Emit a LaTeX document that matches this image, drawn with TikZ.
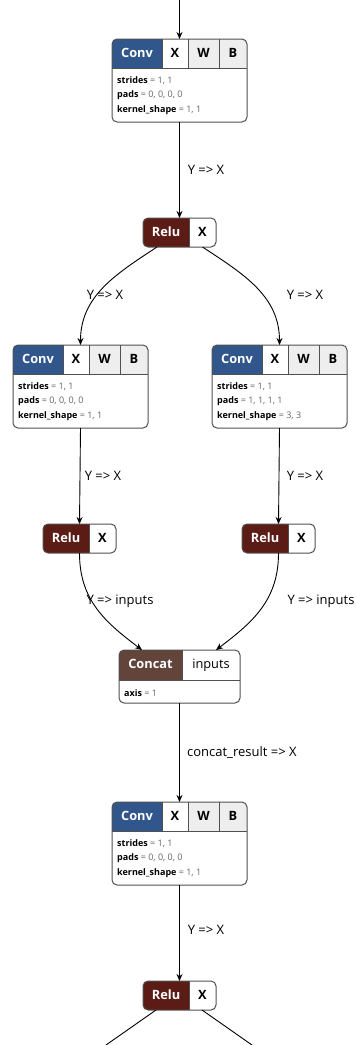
\documentclass[tikz,border=0pt]{standalone}
\usepackage{fontspec}
\setmainfont{Open Sans}
\usetikzlibrary{arrows.meta,calc}
\definecolor{convblue}{RGB}{48,86,140}
\definecolor{relured}{RGB}{92,28,22}
\definecolor{concatbrown}{RGB}{98,68,58}
\definecolor{constgray}{RGB}{238,238,238}
\definecolor{bordergray}{RGB}{80,80,80}
\definecolor{valgray}{RGB}{100,100,100}
\tikzset{
  edge/.style={draw=black, line width=0.9pt, -{Stealth[length=7pt,width=6pt]}},
  edgeplain/.style={draw=black, line width=0.9pt},
  elabel/.style={font=\fontsize{13}{15}\selectfont, text=black, inner sep=0pt},
  cell/.style={inner sep=0pt, outer sep=0pt, anchor=north west, text height=9.5pt, text depth=2.5pt, font=\fontsize{12.8}{15}\selectfont\bfseries},
  frame/.style={draw=bordergray, line width=1pt, rounded corners=5pt, inner sep=0pt, outer sep=0pt, anchor=north west},
  divider/.style={draw=bordergray, line width=0.8pt},
  attr/.style={inner sep=0pt, anchor=west, font=\fontsize{9}{11}\selectfont},
}
\newcommand\convop[6]{%
  \begin{scope}
    \clip[rounded corners=5pt] (#2,#3) rectangle ++(135,83);
    \node[cell, fill=convblue, text=white, minimum width=50, minimum height=29] (#1t) at (#2,#3) {Conv};
    \node[cell, fill=white, minimum width=26, minimum height=29] (#1x) at (#1t.north east) {X};
    \node[cell, fill=constgray, minimum width=31, minimum height=29] (#1w) at (#1x.north east) {W};
    \node[cell, fill=constgray, minimum width=28, minimum height=29] (#1b) at (#1w.north east) {B};
  \end{scope}
  \node[frame, minimum width=135, minimum height=83] (#1) at (#2,#3) {};
  \draw[divider] (#1x.north west) -- (#1x.south west) (#1w.north west) -- (#1w.south west)
    (#1b.north west) -- (#1b.south west) (#1t.south west) -- (#1b.south east);
  \node[attr] (#1s) at (#2+5,#3+42) {\textbf{strides} \textcolor{valgray}{= #4}};
  \node[attr] (#1p) at (#2+5,#3+56.5) {\textbf{pads} \textcolor{valgray}{= #5}};
  \node[attr] (#1k) at (#2+5,#3+71) {\textbf{kernel\_shape} \textcolor{valgray}{= #6}};
}
\newcommand\reluop[3]{%
  \begin{scope}
    \clip[rounded corners=5pt] (#2,#3) rectangle ++(73,29);
    \node[cell, fill=relured, text=white, minimum width=46, minimum height=29] (#1t) at (#2,#3) {Relu};
    \node[cell, fill=white, minimum width=27, minimum height=29] (#1x) at (#1t.north east) {X};
  \end{scope}
  \node[frame, minimum width=73, minimum height=29] (#1) at (#2,#3) {};
  \draw[divider] (#1x.north west) -- (#1x.south west);
}
\begin{document}
\begin{tikzpicture}[x=1pt,y=-1pt]
\useasboundingbox (0,0) rectangle (356,1045);
\fill[white] (0,0) rectangle (356,1045);

\convop{conva}{112}{39}{1, 1}{0, 0, 0, 0}{1, 1}
\reluop{relua}{143}{218}
\convop{convb}{13}{345}{1, 1}{0, 0, 0, 0}{1, 1}
\convop{convc}{212}{345}{1, 1}{1, 1, 1, 1}{3, 3}
\reluop{relub}{43}{524}
\reluop{reluc}{242}{524}
% concat
\begin{scope}
  \clip[rounded corners=5pt] (119,650) rectangle ++(121,53);
  \node[cell, fill=concatbrown, text=white, minimum width=63, minimum height=30] (concatt) at (119,650) {Concat};
  \node[cell, fill=white, font=\fontsize{12.8}{15}\selectfont, minimum width=58, minimum height=30] (concatx) at (concatt.north east) {inputs};
\end{scope}
\node[frame, minimum width=121, minimum height=53] (concat) at (119,650) {};
\draw[divider] (concatx.north west) -- (concatx.south west) (concatt.south west) -- (concatx.south east);
\node[attr] (concata) at (124,693) {\textbf{axis} \textcolor{valgray}{= 1}};
\convop{convd}{112}{802}{1, 1}{0, 0, 0, 0}{1, 1}
\reluop{relud}{143}{981}

% edges
\coordinate (topin) at (179.5,-1);
\draw[edge] (topin) -- (conva.north);
\draw[edge] (conva.south) -- (relua.north);
\node[elabel] (la) at (206,170) {Y => X};
\draw[edge] ([xshift=-22.5pt]relua.south) .. controls +(-41,27) and +(0,-49) .. (convb.north);
\draw[edge] ([xshift=23pt]relua.south) .. controls +(41,27) and +(0,-49) .. (convc.north);
\node[elabel] (lb) at (105,295) {Y => X};
\node[elabel] (lc) at (305,295) {Y => X};
\draw[edge] (convb.south) -- (relub.north);
\draw[edge] (convc.south) -- (reluc.north);
\node[elabel] (ld) at (103,476) {Y => X};
\node[elabel] (le) at (305,476) {Y => X};
\draw[edge] (relub.south) .. controls +(0,47) and +(-37,-28) .. ([xshift=-37.5pt]concat.north);
\draw[edge] (reluc.south) .. controls +(0,47) and +(37,-28) .. ([xshift=36.5pt]concat.north);
\node[elabel] (lf) at (120,601) {Y => inputs};
\node[elabel] (lg) at (321,601) {Y => inputs};
\draw[edge] (concat.south) -- (convd.north);
\node[elabel, anchor=west] (lh) at (187,753) {concat\_result => X};
\draw[edge] (convd.south) -- (relud.north);
\node[elabel] (li) at (206,930) {Y => X};
\coordinate (outa) at (106,1045);
\coordinate (outb) at (252,1045);
\draw[edgeplain] ([xshift=-23.5pt]relud.south) -- (outa);
\draw[edgeplain] ([xshift=22.5pt]relud.south) -- (outb);
\end{tikzpicture}
\end{document}
